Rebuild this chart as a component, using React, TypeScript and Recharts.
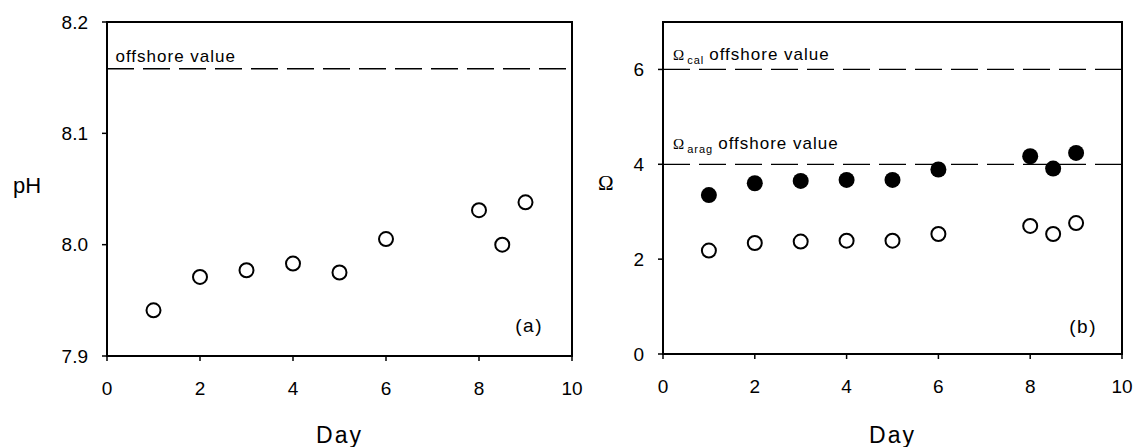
import { ReferenceArea, ReferenceLine, Scatter, ScatterChart, XAxis, YAxis } from 'recharts'

const days = [1, 2, 3, 4, 5, 6, 8, 8.5, 9]
const phValues = [7.941, 7.971, 7.977, 7.983, 7.975, 8.005, 8.031, 8.0, 8.038]
const omegaCal = [3.35, 3.6, 3.65, 3.67, 3.67, 3.89, 4.17, 3.91, 4.24]
const omegaArag = [2.18, 2.34, 2.37, 2.39, 2.39, 2.53, 2.7, 2.53, 2.76]

const dayTicks = [0, 2, 4, 6, 8, 10]
const phTicks = [7.9, 8.0, 8.1, 8.2]
const omegaTicks = [0, 2, 4, 6]

const phOffshore = 8.158
const calOffshore = 6
const aragOffshore = 4

const phData = days.map((day, i) => ({ day, value: phValues[i] }))
const calData = days.map((day, i) => ({ day, value: omegaCal[i] }))
const aragData = days.map((day, i) => ({ day, value: omegaArag[i] }))

const FONT = "'Liberation Sans', Arial, sans-serif"
const SERIF = "'Liberation Serif', 'Times New Roman', serif"
const tickStyle = { fontSize: 19, fill: '#000', fontFamily: FONT }
const dash = '27 9'

const OpenDot = (p: any) => (
	<circle cx={p.cx} cy={p.cy} r={7} fill="#fff" stroke="#000" strokeWidth={2} />
)
const FilledDot = (p: any) => <circle cx={p.cx} cy={p.cy} r={8} fill="#000" />

// text sitting just above a dashed offshore line
const OffshoreText = ({ viewBox, sub, rise }: any) => {
	if (!viewBox) return null
	const x = viewBox.x + (sub ? 10 : 8.5)
	const y = viewBox.y - rise
	if (!sub) {
		return (
			<text x={x} y={y} fontSize={17} letterSpacing={1} fill="#000" fontFamily={FONT}>
				offshore value
			</text>
		)
	}
	return (
		<text x={x} y={y} fill="#000" fontFamily={FONT}>
			<tspan fontFamily={SERIF} fontSize={15}>Ω</tspan>
			<tspan dx={3} dy={4} fontSize={11} letterSpacing={1}>{sub}</tspan>
			<tspan dx={5} dy={-4} fontSize={17} letterSpacing={1}>offshore value</tspan>
		</text>
	)
}

const CornerTag = ({ viewBox, text, right, bottom }: any) => {
	if (!viewBox) return null
	return (
		<text
			x={viewBox.x + viewBox.width - right}
			y={viewBox.y + viewBox.height - bottom}
			textAnchor="end"
			fontSize={19}
			letterSpacing={1.5}
			fill="#000"
			fontFamily={FONT}
		>
			{text}
		</text>
	)
}

const axisLine = { stroke: '#000', strokeWidth: 2 }
const tickLine = { stroke: '#000', strokeWidth: 1.5 }

const PhPanel = () => (
	<ScatterChart width={590} height={447} margin={{ top: 22, right: 18, left: 5, bottom: 56 }}>
		<XAxis
			type="number"
			dataKey="day"
			domain={[0, 10]}
			ticks={dayTicks}
			height={35}
			tickSize={5}
			tickMargin={21}
			axisLine={axisLine}
			tickLine={tickLine}
			tick={tickStyle}
			label={{ value: 'Day', position: 'bottom', offset: 36, fontSize: 23, letterSpacing: 2, fill: '#000' }}
		/>
		<YAxis
			type="number"
			dataKey="value"
			domain={[7.9, 8.2]}
			ticks={phTicks}
			width={102}
			tickSize={5}
			tickMargin={14}
			axisLine={axisLine}
			tickLine={tickLine}
			tick={tickStyle}
			tickFormatter={(v: number) => v.toFixed(1)}
			label={{ value: 'pH', position: 'insideLeft', offset: 8, dy: -4, fontSize: 22, fill: '#000' }}
		/>
		<ReferenceArea
			x1={0}
			x2={10}
			y1={7.9}
			y2={8.2}
			fill="none"
			stroke="#000"
			strokeWidth={2}
			label={<CornerTag text="(a)" right={29} bottom={24} />}
		/>
		<ReferenceLine
			y={phOffshore}
			stroke="#000"
			strokeWidth={1.3}
			strokeDasharray={dash}
			label={<OffshoreText rise={7} />}
		/>
		<Scatter data={phData} dataKey="value" shape={<OpenDot />} isAnimationActive={false} />
	</ScatterChart>
)

const OmegaPanel = () => (
	<ScatterChart width={545} height={447} margin={{ top: 22, right: 13, left: 5, bottom: 58 }}>
		<XAxis
			type="number"
			dataKey="day"
			domain={[0, 10]}
			ticks={dayTicks}
			height={35}
			tickSize={5}
			tickMargin={21}
			axisLine={axisLine}
			tickLine={tickLine}
			tick={tickStyle}
			label={{ value: 'Day', position: 'bottom', offset: 38, fontSize: 23, letterSpacing: 2, fill: '#000' }}
		/>
		<YAxis
			type="number"
			dataKey="value"
			domain={[0, 7]}
			ticks={omegaTicks}
			width={68}
			tickSize={5}
			tickMargin={14}
			axisLine={axisLine}
			tickLine={tickLine}
			tick={tickStyle}
			label={{ value: 'Ω', position: 'insideLeft', offset: 3, dy: -5, fontSize: 21, fill: '#000', fontFamily: SERIF }}
		/>
		<ReferenceArea
			x1={0}
			x2={10}
			y1={0}
			y2={7}
			fill="none"
			stroke="#000"
			strokeWidth={2}
			label={<CornerTag text="(b)" right={25} bottom={21} />}
		/>
		<ReferenceLine
			y={calOffshore}
			stroke="#000"
			strokeWidth={1.3}
			strokeDasharray={dash}
			label={<OffshoreText sub="cal" rise={9} />}
		/>
		<ReferenceLine
			y={aragOffshore}
			stroke="#000"
			strokeWidth={1.3}
			strokeDasharray={dash}
			label={<OffshoreText sub="arag" rise={15} />}
		/>
		<Scatter data={calData} dataKey="value" shape={<FilledDot />} isAnimationActive={false} />
		<Scatter data={aragData} dataKey="value" shape={<OpenDot />} isAnimationActive={false} />
	</ScatterChart>
)

export default function App() {
	return (
		<div
			style={{
				position: 'absolute',
				left: 0,
				top: 0,
				width: 1135,
				height: 447,
				background: '#fff',
				fontFamily: FONT,
				display: 'flex',
			}}
		>
			<PhPanel />
			<OmegaPanel />
		</div>
	)
}
